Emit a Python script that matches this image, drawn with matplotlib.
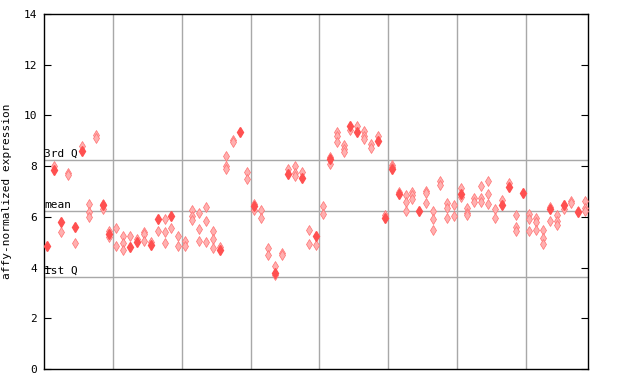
import matplotlib
matplotlib.use("Agg")
import matplotlib.pyplot as plt

# one entry per sample (79 samples, 8 groups separated by grid lines)
solid_vals = [
    4.86, 7.85, 5.80, None, 5.61, 8.61, None, None, 6.45, 5.32,
    None, None, 4.82, 5.02, None, 4.90, 5.93, None, 6.05, None,
    None, None, None, None, None, 4.71, None, None, 9.34, None,
    6.44, None, None, 3.80, None, 7.69, None, 7.53, None, 5.26,
    None, 8.28, None, None, 9.59, 9.35, None, None, 8.99, 5.94,
    7.90, 6.89, None, None, 6.23, None, None, None, None, None,
    6.89, None, None, None, None, None, 6.48, 7.19, None, 6.95,
    None, None, None, 6.30, None, 6.48, None, 6.19, None,
]
hatch_vals = [
    [], [8.0], [5.39], [7.72, 7.65], [4.95], [8.79], [6.49, 6.19, 5.98], [9.24, 9.10], [6.52, 6.32], [5.45, 5.22],
    [5.55, 4.85], [5.24, 4.97, 4.68], [5.24], [5.13], [5.40, 5.31, 5.06], [4.99], [5.43], [5.90, 5.39, 4.96], [5.55], [5.23, 4.84],
    [5.05, 4.85], [6.26, 6.05, 5.86], [6.14, 5.51, 5.04], [6.39, 5.82, 5.00], [5.43, 5.11, 4.76], [4.80], [8.39, 8.02, 7.89], [9.03, 8.97], [], [7.75, 7.49],
    [6.51, 6.27], [6.28, 5.95], [4.78, 4.50], [4.06, 3.70], [4.56, 4.50], [7.87], [7.99, 7.71, 7.62], [7.77], [5.47, 4.94], [4.88],
    [6.41, 6.10], [8.37, 8.07], [9.36, 9.19, 8.96], [8.83, 8.66, 8.57], [9.41], [9.58], [9.37, 9.19, 9.08], [8.87, 8.70], [9.17], [6.07],
    [8.06, 7.98], [6.99], [6.85, 6.57, 6.23], [6.97, 6.85, 6.72], [], [7.01, 6.93, 6.53], [6.23, 5.90, 5.48], [7.40, 7.27], [6.53, 6.36, 5.94], [6.45, 6.02],
    [7.12, 6.80], [6.34, 6.14, 6.06], [6.76, 6.60], [7.20, 6.76, 6.58], [7.40, 6.90, 6.49], [6.30, 5.94], [6.65], [7.32], [6.06, 5.59, 5.43], [],
    [6.11, 5.90, 5.44], [5.95, 5.78, 5.48], [5.48, 5.17, 4.92], [6.39, 5.82], [6.06, 5.85, 5.67], [6.30], [6.62, 6.53], [6.22], [6.61, 6.33, 6.22],
]
group_size = 10
ref_lines = {"3rd Q": 8.23, "mean": 6.23, "1st Q": 3.62}
yticks = [0, 2, 4, 6, 8, 10, 12, 14]

mono = "DejaVu Sans Mono"
fig = plt.figure(figsize=(6.4, 3.84), dpi=100)
ax = fig.add_axes([44 / 640, 15 / 384, 544 / 640, 355 / 384])

n = len(solid_vals)
for b in range(group_size, n, group_size):
    ax.axvline(b - 0.5, color="#a8a8a8", lw=1, zorder=1)
for name, val in ref_lines.items():
    ax.axhline(val, color="#a8a8a8", lw=1, zorder=1)
    ax.text(-0.45, val + 0.06, name, fontsize=8, family=mono, va="bottom", ha="left", zorder=2)

hx, hy = [], []
for i, vals in enumerate(hatch_vals):
    for v in vals:
        hx.append(i)
        hy.append(v)
ax.plot(hx, hy, "d", ms=4.6, color="#ffb0b0", mec="#ff7070", mew=0.5, zorder=3)
sx = [i for i, v in enumerate(solid_vals) if v is not None]
sy = [v for v in solid_vals if v is not None]
ax.plot(sx, sy, "d", ms=4.6, color="#ff5050", mec="#ff5050", zorder=4)

ax.set_xlim(-0.5, n - 0.5)
ax.set_ylim(0, 14)
ax.set_xticks([])
ax.set_yticks(yticks)
ax.set_yticklabels([str(t) for t in yticks], family=mono, fontsize=8)
ax.tick_params(axis="y", direction="in", length=5, right=True, pad=5)
for s in ax.spines.values():
    s.set_color("black")
    s.set_linewidth(1)
ax.set_ylabel("affy-normalized expression", family=mono, fontsize=8, labelpad=8)

fig.savefig("out.png", dpi=100)
plt.close(fig)
